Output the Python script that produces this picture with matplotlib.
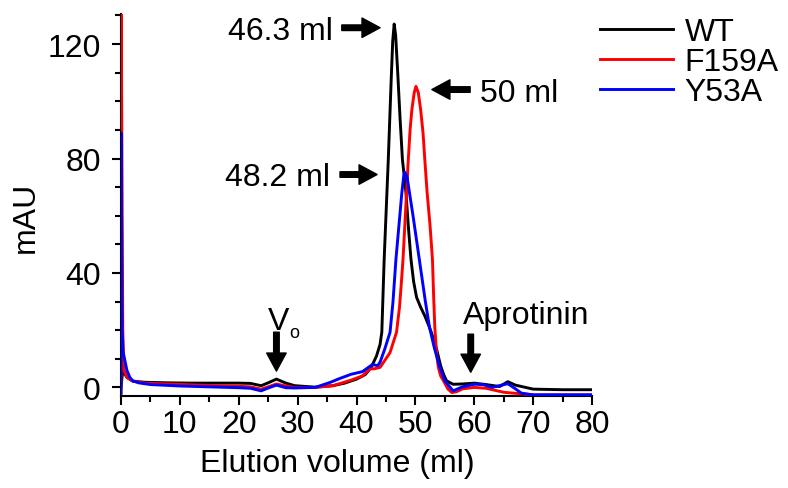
import matplotlib.pyplot as plt
from matplotlib.ticker import MultipleLocator

plt.rcParams['font.family'] = ['Liberation Sans', 'DejaVu Sans']

# elution profiles (volume in ml, absorbance in mAU)
wt_ml = [0, 0.3, 1, 2, 4, 8, 12, 16, 20, 22, 23.8, 25, 26.4, 28, 29.5, 33, 36, 38, 40, 41.5,
         42.5, 43.4, 44, 44.3, 44.7, 45.4, 45.9, 46.15, 46.4, 46.65, 47.0, 47.4, 47.8, 48.4, 48.8,
         49.25, 49.7, 50.2, 50.9, 51.6, 52.2, 52.7, 53.2, 53.6, 54.3, 54.8, 55.3, 56.4, 58, 60, 62,
         64.3, 65.7, 67, 70, 75, 80]
wt_mau = [0, 6, 3.5, 2.2, 1.8, 1.6, 1.5, 1.5, 1.5, 1.4, 0.6, 1.6, 2.9, 1.5, 0.6, 0.1, 0.6, 1.5, 2.9, 4.5,
          7, 11, 15, 19.3, 44.8, 79.7, 108, 121, 127, 123, 110, 94, 79.7, 68, 56.4,
          44.8, 37, 31.5, 28, 25, 22, 19.3, 16, 13.4, 7.5, 4.5, 2.3, 1.1, 1.2, 1.5, 1.0,
          0.3, 2.0, 0.8, -0.6, -0.8, -0.8]

f159a_ml = [0, 0.02, 0.3, 0.5, 1, 2, 4, 8, 12, 16, 20, 22, 23.8, 25, 26.4, 28, 29.5, 33, 36, 39, 41,
            42.3, 43, 44, 44.6, 45.7, 46.8, 47.3, 47.6, 47.9, 48.2, 48.5, 48.8, 49.1, 49.4, 49.8,
            50.1, 50.5, 50.9, 51.3, 51.6, 52.0, 52.5, 52.9, 53.1, 53.3, 53.6, 53.9, 54.3, 55, 55.5,
            56.2, 57, 58, 60, 62, 65, 70, 80]
f159a_mau = [-2, 140, 20, 6, 3.5, 2.2, 1.5, 1.2, 0.9, 0.6, 0.4, 0.2, -0.6, 0.2, 1.2, 0.5, 0.0, 0.0, 0.6, 2.5, 4,
             6.5, 6.5, 7, 8.8, 12.2, 19.3, 28, 36, 44.8, 56.4, 68, 79.7, 90, 97, 103,
             105.2, 103, 97, 89, 79.7, 68, 56.4, 44.8, 32, 21, 12, 7, 4, 1.5, -0.5,
             -1.8, -1.5, -0.5, 0, -0.3, -1.7, -2.6, -2.6]

y53a_ml = [0, 0.02, 0.2, 0.35, 0.6, 1, 1.5, 2, 3, 5, 10, 15, 20, 22, 23.8, 25, 26.4, 28, 29.5, 33,
           35.6, 37, 39.1, 41, 42.7, 43.6, 44, 44.8, 45.7, 46.2, 46.7, 47.2, 47.7, 48.0, 48.2, 48.6,
           49.0, 49.6, 50.3, 51.0, 51.7, 52.4, 53.2, 54.0, 55, 56.4, 58, 60, 61.5, 63, 65.7, 67, 68,
           70, 80]
y53a_mau = [-2, 89, 20, 12.5, 10, 6, 3.5, 2.3, 1.6, 1.0, 0.5, 0.2, -0.1, -0.3, -1.2, -0.2, 0.8, -0.1, -0.2, 0.0,
            1.8, 3, 4.6, 5.5, 8, 7.6, 8.8, 13.4, 19.3, 30, 44.8, 56.4, 68, 73.5, 75.2, 73.5,
            68, 60, 50, 40, 30, 21, 14, 8, 2.3, -1.2, 0.2, 1.1, 1.0, 0, 1.3, -0.5, -2,
            -2.6, -2.6]

fs = 23

fig = plt.figure(figsize=(7.88, 4.89), dpi=100)
ax = fig.add_axes([121/788, 1-397/489, 471/788, 382/489])

ax.plot(wt_ml, wt_mau, color='black', lw=2.1, label='WT', zorder=3)
ax.plot(f159a_ml, f159a_mau, color='#ff0000', lw=2.1, label='F159A', zorder=4)
ax.plot(y53a_ml, y53a_mau, color='#0000ff', lw=2.1, label='Y53A', zorder=5)

ax.set_xlim(0, 80)
ax.set_ylim(-3, 130.5)
ax.xaxis.set_major_locator(MultipleLocator(10))
ax.xaxis.set_minor_locator(MultipleLocator(5))
ax.yaxis.set_major_locator(MultipleLocator(40))
ax.yaxis.set_minor_locator(MultipleLocator(10))
for s in ['top', 'right']:
    ax.spines[s].set_visible(False)
for s in ['left', 'bottom']:
    ax.spines[s].set_linewidth(1.5)
ax.tick_params(which='major', length=6.5, width=1.5, labelsize=fs)
ax.tick_params(which='minor', length=4.5, width=1.5)
ax.tick_params(axis='y', which='major', pad=8)
ax.tick_params(axis='x', which='major', pad=3)

ax.set_xlabel('Elution volume (ml)', fontsize=fs)
ax.set_ylabel('mAU', fontsize=fs)
ax.xaxis.set_label_coords(0.459, -0.135)
ax.yaxis.set_label_coords(-0.17, 0.47)

arrow = dict(facecolor='black', edgecolor='black', width=4, headwidth=14, headlength=13, shrink=0)

# peak labels
ax.annotate('', xy=(44.0, 125.7), xytext=(37.5, 125.7), arrowprops=arrow)
ax.text(36.0, 121.8, '46.3 ml', fontsize=fs, ha='right', va='baseline')
ax.annotate('', xy=(52.8, 104.1), xytext=(59.3, 104.1), arrowprops=arrow)
ax.text(61.0, 100.0, '50 ml', fontsize=fs, ha='left', va='baseline')
ax.annotate('', xy=(43.5, 74.4), xytext=(37.2, 74.4), arrowprops=arrow)
ax.text(35.5, 70.9, '48.2 ml', fontsize=fs, ha='right', va='baseline')

# void volume and aprotinin markers
ax.annotate('', xy=(26.4, 5.7), xytext=(26.4, 19.3), arrowprops=arrow)
ax.text(25.0, 20.4, 'V', fontsize=fs, ha='left', va='baseline')
ax.text(28.5, 17.5, 'o', fontsize=13, ha='left', va='baseline')
ax.annotate('', xy=(59.4, 5.3), xytext=(59.4, 18.6), arrowprops=arrow)
ax.text(58.1, 22.4, 'Aprotinin', fontsize=fs, ha='left', va='baseline')

fig.legend(loc='upper left', bbox_to_anchor=(600/788, 1-18/489), frameon=False, fontsize=fs,
           handlelength=2.3, handletextpad=0.35, labelspacing=0.0, borderpad=0, borderaxespad=0)

fig.savefig('out.png', dpi=100)
